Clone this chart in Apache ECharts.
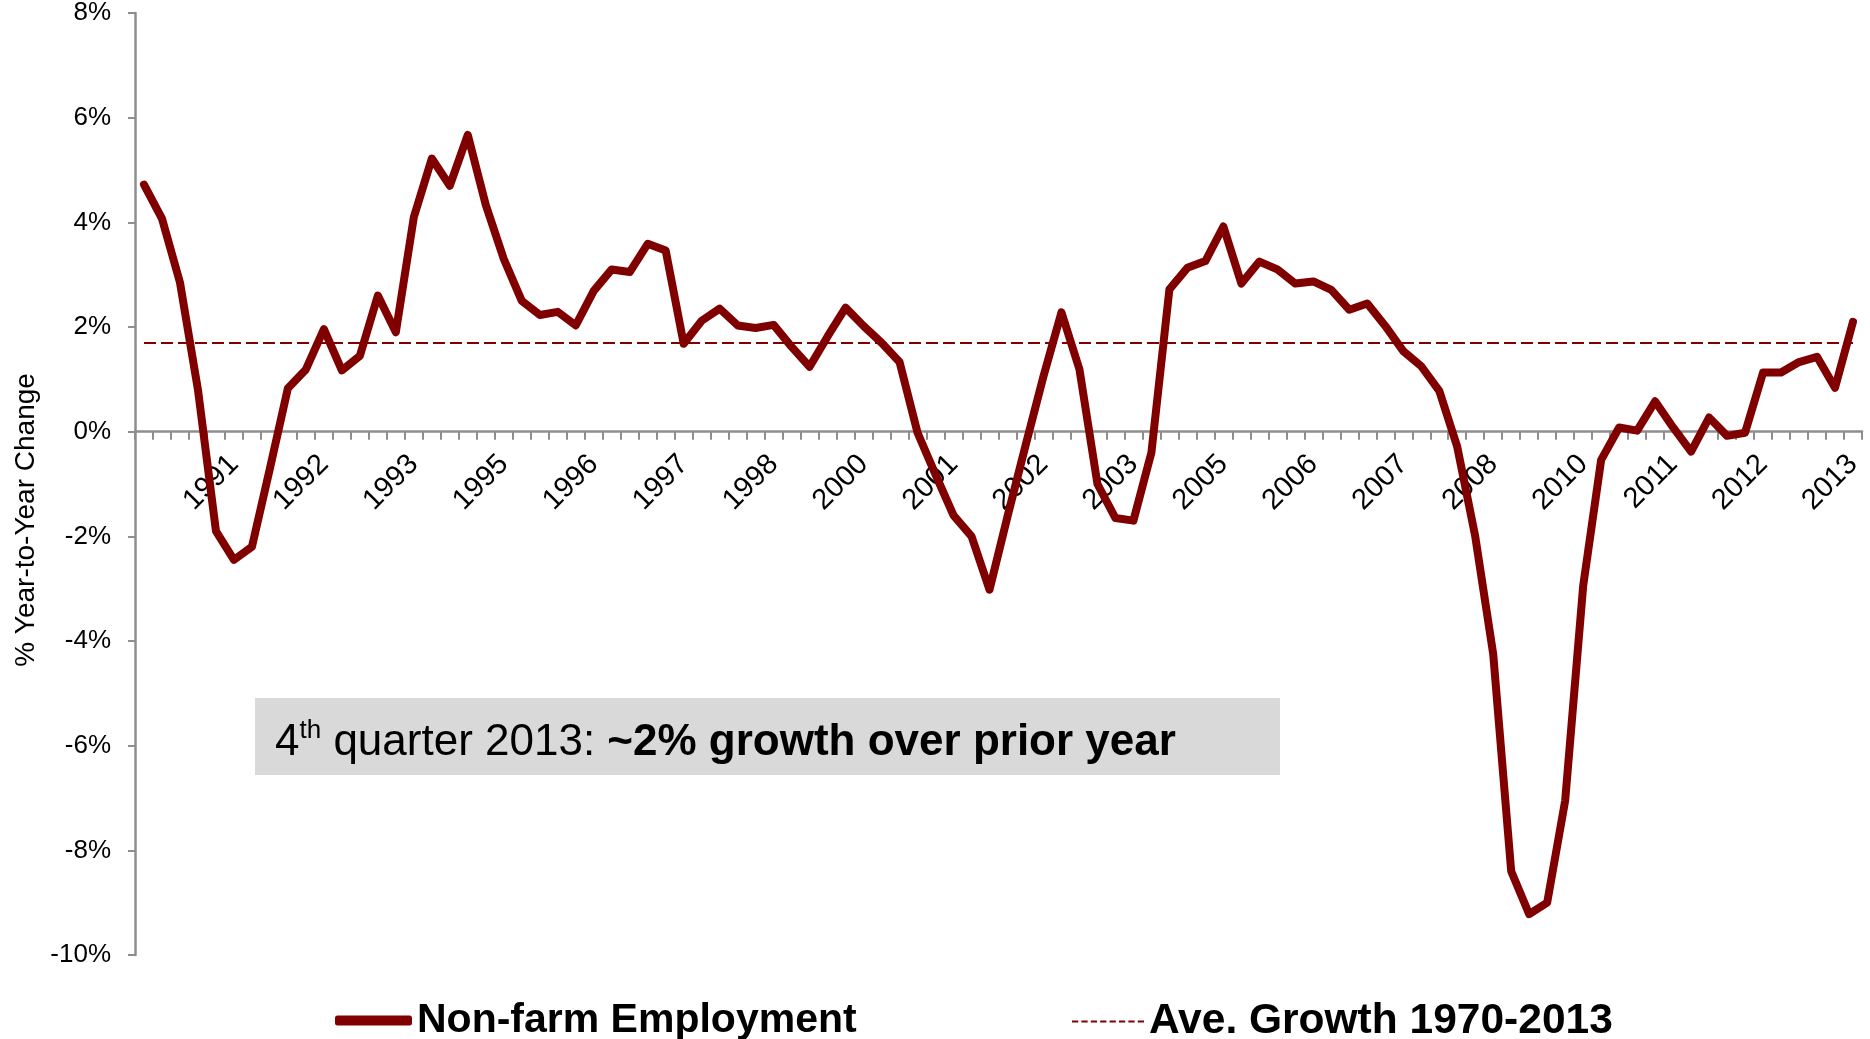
<!DOCTYPE html>
<html>
<head>
<meta charset="utf-8">
<script src="https://cdn.jsdelivr.net/npm/echarts@6/dist/echarts.min.js"></script>
<style>
  html, body { margin: 0; padding: 0; background: #ffffff; }
  #chart { width: 1870px; height: 1039px; }
</style>
</head>
<body>
<div id="chart"></div>
<script>
// Quarterly year-over-year change in non-farm employment, 1990 Q1 – 2013 Q4
const years = [1990, 1991, 1992, 1993, 1994, 1995, 1996, 1997, 1998, 1999, 2000, 2001,
               2002, 2003, 2004, 2005, 2006, 2007, 2008, 2009, 2010, 2011, 2012, 2013];
const quarterNames = ['Q1', 'Q2', 'Q3', 'Q4'];
const categories = years.flatMap(y => quarterNames.map(q => y + ' ' + q));

// % change vs. same quarter of the prior year
const employment = [
   4.72,  4.07,  2.85,  0.80, -1.90, -2.45, -2.20, -0.70,   // 1990-1991
   0.83,  1.19,  1.96,  1.17,  1.45,  2.60,  1.90,  4.10,   // 1992-1993
   5.22,  4.70,  5.67,  4.33,  3.30,  2.50,  2.23,  2.29,   // 1994-1995
   2.03,  2.69,  3.10,  3.05,  3.59,  3.46,  1.68,  2.12,   // 1996-1997
   2.35,  2.03,  1.98,  2.04,  1.62,  1.24,  1.82,  2.37,   // 1998-1999
   2.02,  1.70,  1.33, -0.02, -0.82, -1.60, -2.00, -3.02,   // 2000-2001
  -1.62, -0.27,  1.06,  2.28,  1.19, -1.00, -1.65, -1.70,   // 2002-2003
  -0.40,  2.72,  3.13,  3.26,  3.92,  2.83,  3.25,  3.10,   // 2004-2005
   2.83,  2.87,  2.71,  2.33,  2.45,  2.02,  1.54,  1.25,   // 2006-2007
   0.78, -0.29, -2.00, -4.25, -8.40, -9.22, -9.00, -7.05,   // 2008-2009
  -2.95, -0.54,  0.08,  0.02,  0.58,  0.08, -0.38,  0.27,   // 2010-2011
  -0.08, -0.02,  1.13,  1.13,  1.33,  1.43,  0.84,  2.10    // 2012-2013
];

// Long-run average growth, 1970-2013
const avgGrowth = 1.69;

// Value axis range
const yMin = -10, yMax = 8, yStep = 2;

const MAROON = '#800000';
const AXIS_GRAY = '#8e8e8e';
const FONT = "'Liberation Sans', Arial, sans-serif";

// Plot area in pixels
const GRID = { left: 135, right: 8, top: 13, bottom: 84 };
const CHART_H = 1039;
const plotH = CHART_H - GRID.top - GRID.bottom;
// Lift the category axis (line, ticks and labels) from the plot bottom up to the 0% line
const zeroLift = -plotH * (0 - yMin) / (yMax - yMin);

// Legend marker for the dashed average line: eight short dashes
const dashIcon = 'path://' + Array.from({ length: 8 }, (_, k) => `M${k * 9},0h6v2h-6z`).join(' ');

const chart = echarts.init(document.getElementById('chart'), null, { renderer: 'canvas' });

chart.setOption({
  animation: false,
  backgroundColor: '#ffffff',
  grid: Object.assign({ containLabel: false }, GRID),
  xAxis: {
    type: 'category',
    data: categories,
    boundaryGap: true,
    offset: zeroLift,
    axisLine: { onZero: false, lineStyle: { color: AXIS_GRAY, width: 2.5 } },
    axisTick: { show: true, interval: 0, length: 8, lineStyle: { color: AXIS_GRAY, width: 2 } },
    axisLabel: {
      // a year label every fifth quarter, from the second year on
      interval: (i) => i % 5 === 0 && i > 0,
      formatter: (v) => v.slice(0, 4),
      rotate: 45,
      margin: 28,
      fontSize: 29,
      fontFamily: FONT,
      color: '#000',
      hideOverlap: false
    },
    splitLine: { show: false }
  },
  yAxis: {
    type: 'value',
    min: yMin,
    max: yMax,
    interval: yStep,
    axisLine: { show: true, lineStyle: { color: AXIS_GRAY, width: 2.5 } },
    axisTick: { show: true, length: 7, lineStyle: { color: AXIS_GRAY, width: 2 } },
    axisLabel: { formatter: '{value}%', fontSize: 26, fontFamily: FONT, color: '#000', margin: 24 },
    splitLine: { show: false }
  },
  legend: [
    {
      data: [{ name: 'Non-farm Employment', icon: 'roundRect' }],
      left: 330, top: 995,
      itemWidth: 77, itemHeight: 10,
      selectedMode: false,
      textStyle: { fontSize: 41, fontWeight: 'bold', fontFamily: FONT, color: '#000' }
    },
    {
      data: [{ name: 'Ave. Growth 1970-2013', icon: dashIcon }],
      left: 1067, top: 995,
      itemWidth: 72, itemHeight: 2.5,
      selectedMode: false,
      textStyle: { fontSize: 42.5, fontWeight: 'bold', fontFamily: FONT, color: '#000' }
    }
  ],
  series: [
    {
      name: 'Non-farm Employment',
      type: 'line',
      data: employment,
      symbol: 'none',
      z: 3,
      itemStyle: { color: MAROON },
      lineStyle: { color: MAROON, width: 8, cap: 'round', join: 'round' }
    },
    {
      name: 'Ave. Growth 1970-2013',
      type: 'line',
      data: [],
      symbol: 'none',
      z: 2,
      itemStyle: { color: MAROON },
      lineStyle: { color: MAROON, width: 2, type: [12, 5] },
      markLine: {
        silent: true,
        symbol: ['none', 'none'],
        label: { show: false },
        lineStyle: { color: MAROON, width: 2, type: [12, 5] },
        data: [[
          { coord: [categories[0], avgGrowth] },
          { coord: [categories[categories.length - 1], avgGrowth] }
        ]]
      }
    }
  ],
  graphic: [
    {
      type: 'text',
      x: 26, y: 520,
      rotation: Math.PI / 2,
      style: {
        text: '% Year-to-Year Change',
        fontSize: 28, fontFamily: FONT, fill: '#000',
        align: 'center', verticalAlign: 'middle'
      }
    },
    {
      type: 'group',
      x: 255, y: 698,
      children: [
        { type: 'rect', shape: { x: 0, y: 0, width: 1025, height: 77 }, style: { fill: '#d9d9d9' } },
        {
          type: 'text',
          x: 20, y: 45,
          style: {
            text: '{n|4}{sup|th}{n| quarter 2013: }{b|~2% growth over prior year}',
            align: 'left', verticalAlign: 'middle',
            rich: {
              n: { fontSize: 44, fontFamily: FONT, fill: '#000', lineHeight: 50 },
              sup: { fontSize: 26, fontFamily: FONT, fill: '#000', lineHeight: 36, verticalAlign: 'top' },
              b: { fontSize: 44, fontFamily: FONT, fontWeight: 'bold', fill: '#000', lineHeight: 50 }
            }
          }
        }
      ]
    }
  ]
});
</script>
</body>
</html>
